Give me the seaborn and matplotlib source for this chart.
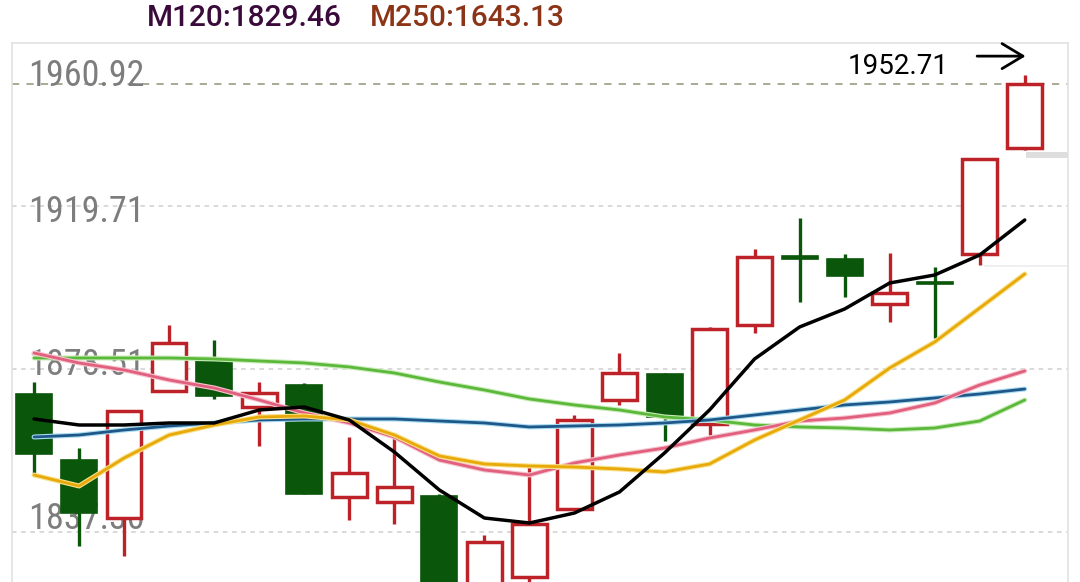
import numpy as np
import pandas as pd
import matplotlib
matplotlib.use("Agg")
import matplotlib.pyplot as plt
import matplotlib.patheffects as pe
from matplotlib.patches import Rectangle
import seaborn as sns

# ---------------- data ----------------
opens  = [1872.19, 1855.50, 1840.84, 1872.95, 1881.04, 1868.90, 1874.47, 1846.15, 1844.89, 1846.40,
          1821.00, 1825.93, 1843.12, 1870.67, 1877.25, 1864.61, 1889.63, 1907.08, 1906.32, 1894.94,
          1900.50, 1907.58, 1934.38]
closes = [1857.02, 1842.10, 1867.89, 1885.08, 1871.68, 1872.44, 1846.91, 1852.22, 1848.68, 1820.00,
          1834.78, 1839.32, 1865.62, 1877.50, 1866.38, 1888.62, 1906.83, 1906.37, 1902.02, 1897.72,
          1900.00, 1931.60, 1950.56]
highs  = [1875.22, 1858.54, 1868.10, 1889.63, 1885.84, 1875.22, 1874.97, 1861.32, 1861.82, 1846.90,
          1836.54, 1853.73, 1866.88, 1882.55, 1877.50, 1889.13, 1908.85, 1916.68, 1907.58, 1907.84,
          1904.30, 1931.80, 1952.71]
lows   = [1851.46, 1833.76, 1831.24, 1872.95, 1870.93, 1859.04, 1846.91, 1840.33, 1839.32, 1818.00,
          1819.00, 1824.40, 1843.12, 1869.41, 1860.31, 1861.82, 1887.61, 1895.45, 1896.71, 1890.39,
          1886.35, 1904.80, 1933.88]

ma_black  = [1865.87, 1864.35, 1864.35, 1864.86, 1864.86, 1868.15, 1868.90, 1865.62, 1857.53, 1847.92,
             1840.84, 1839.58, 1842.10, 1847.42, 1857.27, 1868.15, 1881.04, 1889.13, 1893.68, 1900.25,
             1902.27, 1907.33, 1916.18]
ma_yellow = [1851.71, 1848.93, 1856.01, 1861.82, 1864.35, 1866.38, 1866.63, 1865.62, 1861.82, 1856.52,
             1854.49, 1853.99, 1853.73, 1853.23, 1852.47, 1854.49, 1860.56, 1865.62, 1870.67, 1878.76,
             1885.34, 1893.93, 1902.53]
ma_pink   = [1882.55, 1880.03, 1878.26, 1875.73, 1873.71, 1870.67, 1867.39, 1864.86, 1861.32, 1855.50,
             1852.98, 1851.71, 1854.75, 1856.77, 1858.54, 1861.07, 1863.09, 1865.36, 1866.12, 1867.39,
             1869.91, 1874.47, 1878.01]
ma_green  = [1881.29, 1881.29, 1881.29, 1881.29, 1881.04, 1880.53, 1880.03, 1879.02, 1877.50, 1875.22,
             1873.20, 1870.93, 1869.41, 1868.15, 1866.38, 1865.62, 1864.35, 1863.85, 1863.59, 1863.09,
             1863.59, 1865.36, 1870.67]
ma_blue   = [1861.32, 1861.82, 1863.09, 1864.10, 1864.86, 1865.62, 1865.87, 1865.87, 1865.87, 1865.36,
             1864.86, 1863.85, 1864.10, 1864.35, 1864.86, 1865.62, 1866.88, 1868.15, 1869.41, 1870.17,
             1871.18, 1872.19, 1873.45]

ytick_values = [1960.92, 1919.71, 1878.51, 1837.30]
ytick_labels = ["1960.92", "1919.71", "1878.51", "1837.30"]
header_texts = ["M120:1829.46", "M250:1643.13"]
max_label = "1952.71"

# ---------------- style ----------------
sns.set_theme(style="white")
plt.rcParams['font.family'] = ['Roboto', 'DejaVu Sans']

RED = "#bd2229"
GREEN = "#0a560a"

fig = plt.figure(figsize=(10.8, 5.82), dpi=100)
ax = fig.add_axes([12/1080, 0.0, (1068-12)/1080, (582-43)/582])
ax.set_facecolor("white")

n = len(opens)
idx = np.arange(n)
ax.set_xlim(-0.49, 22.96)
ax.set_ylim(1824.66, 1960.92)

for s in ["left", "top", "right"]:
    ax.spines[s].set_color("#e2e2e2")
    ax.spines[s].set_linewidth(1.2)
ax.spines["bottom"].set_visible(False)
ax.set_xticks([])
ax.set_yticks([])

# grid lines (dashed)
for v in ytick_values[1:]:
    ax.axhline(v, color="#cfcfcf", lw=1.1, ls=(0, (3, 3)), zorder=1)

# current price line
ax.axhline(closes[-1], color="#a3a38c", lw=1.3, ls=(0, (4, 4)), zorder=1)

# y labels drawn inside the plot
trans = matplotlib.transforms.blended_transform_factory(ax.transAxes, ax.transData)
label_y = [1952.58, 1918.20, 1879.52, 1840.59]
for lab, yy in zip(ytick_labels, label_y):
    ax.text(0.0152, yy, lab, transform=trans, ha="left", va="center",
            fontsize=26, color="#7d7d7d",
            family=['Liberation Sans Narrow', 'Roboto Condensed', 'DejaVu Sans'], zorder=1.5)

# candles
df = pd.DataFrame({"open": opens, "close": closes, "high": highs, "low": lows}, index=idx)
up = df[df.close >= df.open]
dn = df[df.close < df.open]

ax.vlines(up.index, up.low, up.high, color=RED, lw=2.4, zorder=2)
ax.vlines(dn.index, dn.low, dn.high, color=GREEN, lw=2.4, zorder=2)
ax.bar(up.index, up.close - up.open, bottom=up.open, width=0.77,
       facecolor="white", edgecolor=RED, linewidth=2.5, zorder=3)
ax.bar(dn.index, dn.close - dn.open, bottom=dn.open, width=0.8,
       facecolor=GREEN, edgecolor=GREEN, linewidth=1.2, zorder=3)

# moving averages
ma = pd.DataFrame({"i": idx, "green": ma_green, "blue": ma_blue, "pink": ma_pink,
                   "yellow": ma_yellow, "black": ma_black})
styles = [("green", "#5cb83a", 2.0, "#c8ecb8"),
          ("blue", "#1f5888", 2.0, "#a9dcf2"),
          ("pink", "#e0607e", 2.0, "#f7c4cf"),
          ("yellow", "#e8a90a", 2.0, "#f8e08a"),
          ("black", "#000000", 2.5, None)]
for col, c, lw, glow in styles:
    sns.lineplot(data=ma, x="i", y=col, color=c, lw=lw, ax=ax, zorder=4)
    if glow:
        ax.lines[-1].set_path_effects([pe.Stroke(linewidth=lw + 1.6, foreground=glow),
                                       pe.Normal()])
ax.set_xlabel("")
ax.set_ylabel("")

# max annotation
ax.text(20.31, 1955.1, max_label, ha="right", va="center", fontsize=20, color="black", zorder=5)
ax.annotate("", xy=(22.08, 1957.6), xytext=(20.88, 1957.6),
            arrowprops=dict(arrowstyle="->,head_length=0.5,head_width=0.3", color="black",
                            lw=2.0, mutation_scale=30), zorder=5)

# small grey artefacts at the right edge
ax.add_patch(Rectangle((22.02, 1931.85), 0.95, 1.55, facecolor="#dedede", edgecolor="none", zorder=1))
ax.hlines(1904.55, 21.1, 22.96, color="#ececec", lw=1.2, zorder=0.5)

# header
fig.text(147/1080, 1 - 17.5/582, header_texts[0], ha="left", va="center", fontsize=21.5,
         fontweight="medium", color="#3a0a3a")
fig.text(370/1080, 1 - 17.5/582, header_texts[1], ha="left", va="center", fontsize=21.5,
         fontweight="medium", color="#8c3418")

fig.savefig("out.png", dpi=100, facecolor="white")
